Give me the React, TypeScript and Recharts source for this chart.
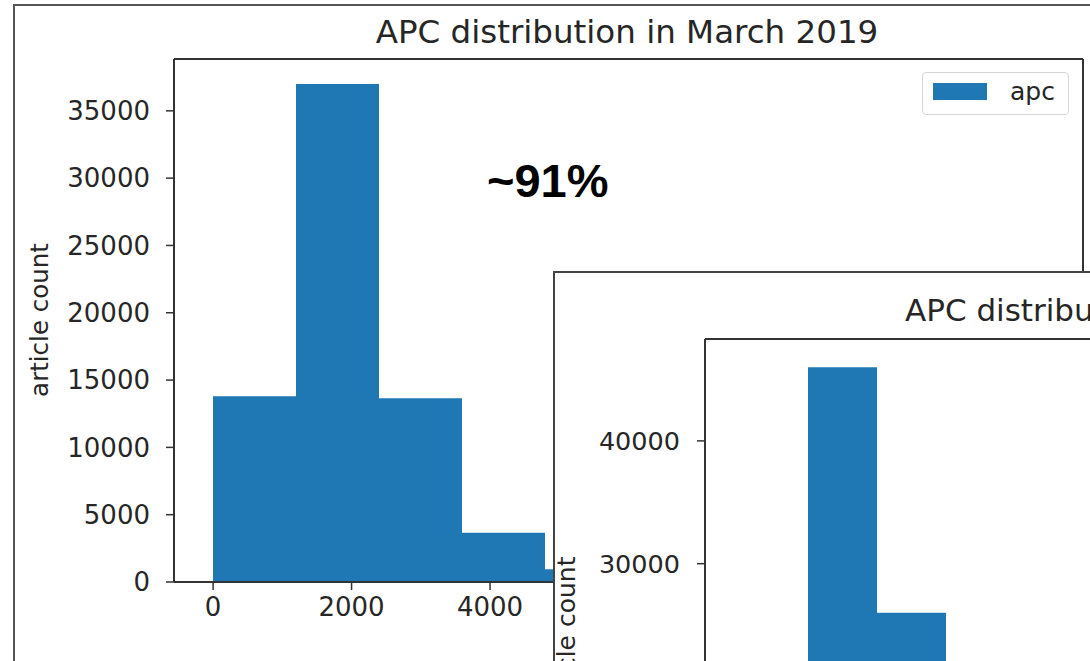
import React from 'react';
import { BarChart, Bar, XAxis, YAxis, Legend } from 'recharts';

const BLUE = '#1f77b4';
const AXIS = '#333333';
const TEXT = '#262626';
const FONT = "'DejaVu Sans', sans-serif";

// Main histogram (APC distribution in March 2019) - visible bins
const mainBinLabels = ['0-1200', '1200-2400', '2400-3600', '3600-4800', '4800-6000'];
const mainBinStarts = [0, 1200, 2400, 3600, 4800];
const mainCounts = [13800, 37000, 13650, 3650, 950];
const mainXTicks = [0, 2000, 4000, 6000, 8000, 10000];
const mainYTicks = [0, 5000, 10000, 15000, 20000, 25000, 30000, 35000];

// Inset histogram - visible bins only
const insetBinLabels = ['bin1', 'bin2'];
const insetCounts = [46000, 26000];
const insetYTicks = [0, 10000, 20000, 30000, 40000];

const mainData = mainBinLabels.map((b, i) => ({ bin: b, start: mainBinStarts[i], apc: mainCounts[i] }));
const insetData = insetBinLabels.map((b, i) => ({ bin: b, apc: insetCounts[i] }));

const LegendBox = () => (
  <div
    style={{
      width: 147,
      height: 43,
      boxSizing: 'border-box',
      border: '1.5px solid #d6d6d6',
      borderRadius: 4,
      background: 'rgba(255,255,255,0.8)',
      position: 'relative',
      fontFamily: FONT,
    }}
  >
    <div style={{ position: 'absolute', left: 10, top: 10, width: 54, height: 17, background: BLUE }} />
    <div style={{ position: 'absolute', left: 87, top: 4, fontSize: 25, color: TEXT, lineHeight: '30px' }}>apc</div>
  </div>
);

export default function App() {
  return (
    <div style={{ position: 'relative', width: 1090, height: 661, overflow: 'hidden', background: '#fff', fontFamily: FONT }}>
      <style>{'body{margin:0;overflow:hidden;background:#fff}'}</style>
      {/* outer screenshot frame */}
      <div
        style={{
          position: 'absolute',
          left: 13,
          top: 4,
          width: 1200,
          height: 800,
          borderLeft: '2px solid #555',
          borderTop: '2px solid #555',
          boxSizing: 'border-box',
        }}
      />
      <div style={{ position: 'absolute', left: 0, top: 0 }}>
        <BarChart
          width={1090}
          height={661}
          data={mainData}
          margin={{ top: 58, right: 6, bottom: 0, left: 0 }}
          barCategoryGap={0}
          barGap={0}
        >
          <XAxis xAxisId="bins" dataKey="bin" type="category" hide padding={{ left: 39, right: 455 }} />
          <XAxis
            xAxisId="apc"
            dataKey="start"
            type="number"
            domain={[-565, 12565]}
            allowDataOverflow
            ticks={mainXTicks}
            height={79}
            tickSize={8}
            tickMargin={8}
            axisLine={{ stroke: AXIS, strokeWidth: 2 }}
            tickLine={{ stroke: AXIS, strokeWidth: 1.5 }}
            tick={{ fill: TEXT, fontSize: 26, fontFamily: FONT }}
          />
          <XAxis
            xAxisId="top"
            orientation="top"
            dataKey="bin"
            height={1}
            tick={false}
            tickLine={false}
            axisLine={{ stroke: AXIS, strokeWidth: 2 }}
          />
          <YAxis
            yAxisId="count"
            width={174}
            domain={[0, 38850]}
            ticks={mainYTicks}
            allowDataOverflow
            tickSize={8}
            tickMargin={16}
            axisLine={{ stroke: AXIS, strokeWidth: 2 }}
            tickLine={{ stroke: AXIS, strokeWidth: 1.5 }}
            tick={{ fill: TEXT, fontSize: 26, fontFamily: FONT }}
          />
          <YAxis
            yAxisId="right"
            orientation="right"
            width={1}
            tick={false}
            tickLine={false}
            axisLine={{ stroke: AXIS, strokeWidth: 2 }}
          />
          <Legend
            layout="vertical"
            align="center"
            verticalAlign="middle"
            wrapperStyle={{ top: 72, left: 922, width: 147, height: 43 }}
            content={() => <LegendBox />}
          />
          <Bar xAxisId="bins" yAxisId="count" dataKey="apc" name="apc" fill={BLUE} isAnimationActive={false} />
        </BarChart>
      </div>
      <svg width={1090} height={661} style={{ position: 'absolute', left: 0, top: 0, pointerEvents: 'none' }}>
        <text x={627} y={43} textAnchor="middle" fontSize={32.5} fill={TEXT} fontFamily={FONT}>
          APC distribution in March 2019
        </text>
        <text x={487} y={197} fontSize={47} fontWeight="bold" fill="#000" fontFamily="'Liberation Sans', Arial, sans-serif">
          ~91%
        </text>
        <text transform="translate(48,320) rotate(-90)" textAnchor="middle" fontSize={24.5} fill={TEXT} fontFamily={FONT}>
          article count
        </text>
      </svg>
      {/* inset screenshot */}
      <div
        style={{
          position: 'absolute',
          left: 553,
          top: 271,
          width: 600,
          height: 420,
          background: '#fff',
          borderLeft: '2px solid #444',
          borderTop: '2px solid #444',
          boxSizing: 'border-box',
          overflow: 'hidden',
        }}
      >
        <div style={{ position: 'absolute', left: 0, top: 0 }}>
          <BarChart
            width={1056}
            height={709}
            data={insetData}
            margin={{ top: 65, right: 10, bottom: 50, left: 0 }}
            barCategoryGap={0}
            barGap={0}
          >
            <XAxis xAxisId="bins" dataKey="bin" type="category" hide padding={{ left: 103, right: 655 }} />
            <XAxis
              xAxisId="top"
              orientation="top"
              dataKey="bin"
              height={1}
              tick={false}
              tickLine={false}
              axisLine={{ stroke: AXIS, strokeWidth: 2 }}
            />
            <YAxis
              yAxisId="count"
              width={150}
              domain={[0, 48300]}
              ticks={insetYTicks}
              allowDataOverflow
              tickSize={8}
              tickMargin={17}
              axisLine={{ stroke: AXIS, strokeWidth: 2 }}
              tickLine={{ stroke: AXIS, strokeWidth: 1.5 }}
              tick={{ fill: TEXT, fontSize: 25.5, fontFamily: FONT }}
            />
            <Bar xAxisId="bins" yAxisId="count" dataKey="apc" name="apc" fill={BLUE} isAnimationActive={false} />
          </BarChart>
        </div>
        <svg width={600} height={420} style={{ position: 'absolute', left: 0, top: 0, pointerEvents: 'none' }}>
          <text x={350} y={48} fontSize={31} fill={TEXT} fontFamily={FONT}>
            APC distribution
          </text>
          <text transform="translate(20,362) rotate(-90)" textAnchor="middle" fontSize={25} fill={TEXT} fontFamily={FONT}>
            article count
          </text>
        </svg>
      </div>
    </div>
  );
}
